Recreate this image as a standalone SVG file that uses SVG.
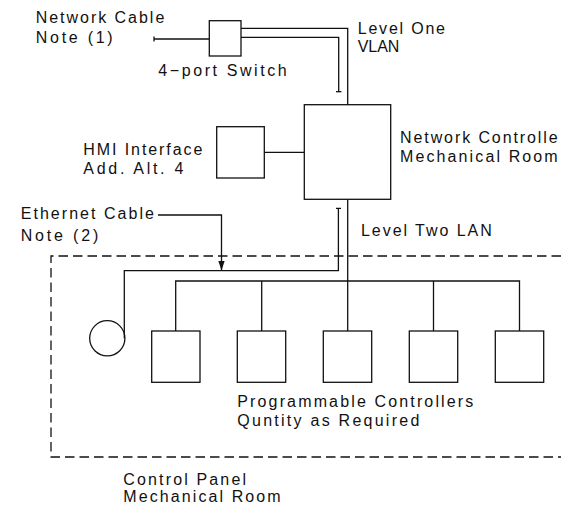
<svg xmlns="http://www.w3.org/2000/svg" width="561" height="506" viewBox="0 0 561 506">
<style>
.b{fill:none;stroke:#111;stroke-width:1.3}
.c{fill:none;stroke:#111;stroke-width:1.3}
.d{fill:none;stroke:#111;stroke-width:1.3;stroke-dasharray:9.5 5}
text{font-family:"Liberation Sans",Arial,sans-serif;font-size:16px;fill:#111}
</style>
<defs>
<marker id="ah" viewBox="0 0 10 8" refX="10" refY="4" markerWidth="10" markerHeight="8" markerUnits="userSpaceOnUse" orient="auto">
<path d="M0,0.8 L10,4 L0,7.2 Z" fill="#111"/>
</marker>
</defs>
<rect width="561" height="506" fill="#fff"/>

<g id="panel">
<path class="d" d="M561,256 H51 V457 H561"/>
<text x="123.3" y="485" textLength="122.7" lengthAdjust="spacing">Control Panel</text>
<text x="123.3" y="502.3" textLength="157.3" lengthAdjust="spacing">Mechanical Room</text>
</g>

<g id="connectors">
<path class="c" d="M154,39 H209"/>
<path class="c" d="M154,36.5 V41.5"/>
<path class="c" d="M241,28.3 H347.7 V105"/>
<path class="c" d="M241,37.3 H338.7 V91.7"/>
<path class="c" d="M336,91.7 H341.4"/>
<path class="c" d="M264.3,152.3 H304.3"/>
<path class="c" d="M347.7,199.3 V331"/>
<path class="c" d="M336,208.3 H341 M338.4,208.3 V270.7 H124.3 V338.3"/>
<path class="c" d="M158,215 H221.5 V270.7" marker-end="url(#ah)"/>
<path class="c" d="M175.7,331 V281 H519.5 V331"/>
<path class="c" d="M261.7,281 V331 M433.5,281 V331"/>
</g>

<g id="cable1">
<text x="35.7" y="23.3" textLength="128.6" lengthAdjust="spacing">Network Cable</text>
<text x="35.7" y="43.3" textLength="77" lengthAdjust="spacing">Note (1)</text>
</g>

<g id="switch">
<rect class="b" x="209.3" y="20.7" width="31.7" height="35.3"/>
<text x="158.3" y="76" textLength="128.4" lengthAdjust="spacing">4−port Switch</text>
</g>

<g id="vlan">
<text x="357.7" y="34" textLength="87.3" lengthAdjust="spacing">Level One</text>
<text x="357.7" y="51.7" textLength="41.6" lengthAdjust="spacing">VLAN</text>
</g>

<g id="controller">
<rect class="b" x="304.3" y="104.7" width="86.4" height="94.6"/>
<text x="400" y="143.3" textLength="157.7" lengthAdjust="spacing">Network Controlle</text>
<text x="400" y="161.7" textLength="157.7" lengthAdjust="spacing">Mechanical Room</text>
</g>

<g id="hmi">
<rect class="b" x="216.7" y="126.7" width="47.6" height="51.3"/>
<text x="83.3" y="155" textLength="119" lengthAdjust="spacing">HMI Interface</text>
<text x="83.3" y="174" textLength="100" lengthAdjust="spacing">Add. Alt. 4</text>
</g>

<g id="cable2">
<text x="20.7" y="219" textLength="133.3" lengthAdjust="spacing">Ethernet Cable</text>
<text x="20.7" y="241" textLength="77.6" lengthAdjust="spacing">Note (2)</text>
</g>

<g id="lan">
<text x="361" y="235.7" textLength="130.7" lengthAdjust="spacing">Level Two LAN</text>
</g>

<g id="terminal">
<circle class="b" cx="107.3" cy="338.3" r="17.6"/>
</g>

<g id="plc1"><rect class="b" x="151.7" y="331" width="48.3" height="51.3"/></g>
<g id="plc2"><rect class="b" x="237.3" y="331" width="48.4" height="51.3"/></g>
<g id="plc3"><rect class="b" x="323.3" y="331" width="48.4" height="51.3"/></g>
<g id="plc4"><rect class="b" x="409.3" y="331" width="48.4" height="51.3"/></g>
<g id="plc5"><rect class="b" x="495.3" y="331" width="48.4" height="51.3"/></g>

<g id="plc-label">
<text x="237.3" y="407.3" textLength="236" lengthAdjust="spacing">Programmable Controllers</text>
<text x="237.3" y="425.7" textLength="182" lengthAdjust="spacing">Quntity as Required</text>
</g>
</svg>
